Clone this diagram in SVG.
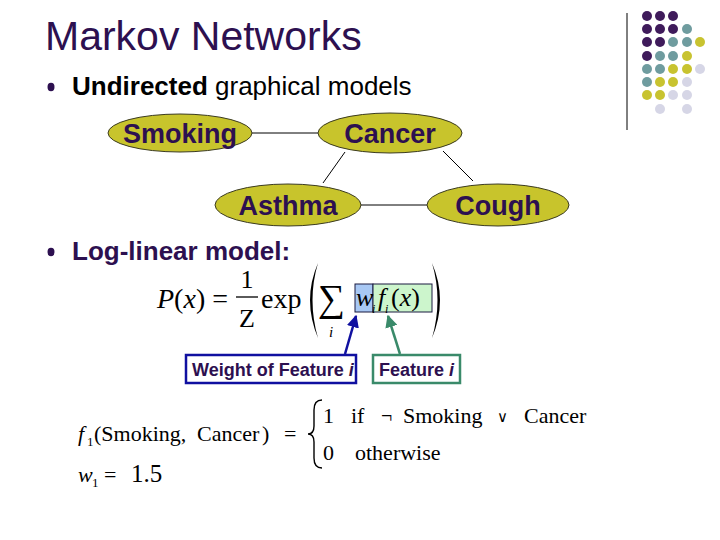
<svg xmlns="http://www.w3.org/2000/svg" width="720" height="540" viewBox="0 0 720 540">
<style>
.sans{font-family:"Liberation Sans",Arial,sans-serif}
.title{font-size:41px;fill:#2d1050}
.node ellipse{fill:#c8c42c;stroke:#3a3a20;stroke-width:1}
.node text{font-family:"Liberation Sans",Arial,sans-serif;font-weight:bold;font-size:27px;fill:#2d1050;text-anchor:middle}
.edge{stroke:#000;stroke-width:1;fill:none}
.dk{fill:#3f1b5b}.tl{fill:#6f9c9f}.yl{fill:#c8c330}.lv{fill:#d6d6e6}
.m{font-family:"Liberation Serif","Times New Roman",serif;fill:#000}
.lbl{font-family:"Liberation Sans",Arial,sans-serif;font-weight:bold;font-size:18px;fill:#2d1050}
</style>
<defs>
<marker id="ahB" viewBox="0 0 10 10" refX="9" refY="5" markerWidth="5" markerHeight="5" orient="auto"><path d="M0,0L10,5L0,10z" fill="#1010a0"/></marker>
<marker id="ahG" viewBox="0 0 10 10" refX="9" refY="5" markerWidth="5" markerHeight="5" orient="auto"><path d="M0,0L10,5L0,10z" fill="#3a8a6a"/></marker>
</defs>
<rect width="720" height="540" fill="#fff"/>
<g id="decor">
<line x1="627" y1="13" x2="627" y2="130" stroke="#000" stroke-width="1"/>
<circle class="dk" cx="647" cy="16" r="5"/><circle class="dk" cx="660" cy="16" r="5"/><circle class="dk" cx="673" cy="16" r="5"/>
<circle class="dk" cx="647" cy="29" r="5"/><circle class="dk" cx="660" cy="29" r="5"/><circle class="dk" cx="673" cy="29" r="5"/><circle class="tl" cx="687" cy="29" r="5"/>
<circle class="dk" cx="647" cy="42" r="5"/><circle class="dk" cx="660" cy="42" r="5"/><circle class="tl" cx="673" cy="42" r="5"/><circle class="tl" cx="687" cy="42" r="5"/><circle class="yl" cx="700" cy="42" r="5"/>
<circle class="dk" cx="647" cy="56" r="5"/><circle class="tl" cx="660" cy="56" r="5"/><circle class="tl" cx="673" cy="56" r="5"/><circle class="yl" cx="687" cy="56" r="5"/>
<circle class="tl" cx="647" cy="69" r="5"/><circle class="tl" cx="660" cy="69" r="5"/><circle class="yl" cx="673" cy="69" r="5"/><circle class="yl" cx="687" cy="69" r="5"/><circle class="lv" cx="700" cy="69" r="5"/>
<circle class="tl" cx="647" cy="82" r="5"/><circle class="yl" cx="660" cy="82" r="5"/><circle class="yl" cx="673" cy="82" r="5"/><circle class="lv" cx="687" cy="82" r="5"/>
<circle class="yl" cx="647" cy="95" r="5"/><circle class="yl" cx="660" cy="95" r="5"/><circle class="lv" cx="673" cy="95" r="5"/><circle class="lv" cx="687" cy="95" r="5"/>
<circle class="lv" cx="660" cy="109" r="5"/><circle class="lv" cx="687" cy="109" r="5"/>
</g>
<text class="sans title" x="45" y="50">Markov Networks</text>
<ellipse cx="51" cy="87" rx="3.5" ry="4.2" fill="#2d1050"/>
<text class="sans" x="72" y="95" font-size="26" fill="#000"><tspan font-weight="bold">Undirected</tspan> graphical models</text>
<ellipse cx="51" cy="252" rx="3.5" ry="4.2" fill="#2d1050"/>
<text class="sans" x="72" y="260" font-size="26" font-weight="bold" fill="#2d1050">Log-linear model:</text>
<g id="edges">
<line class="edge" x1="252" y1="133" x2="318" y2="133"/>
<line class="edge" x1="345" y1="152" x2="323" y2="183"/>
<line class="edge" x1="443" y1="151" x2="473" y2="181"/>
<line class="edge" x1="361" y1="205" x2="427" y2="205"/>
</g>
<g id="smoking" class="node"><ellipse cx="180" cy="133" rx="72" ry="19"/><text x="180" y="143">Smoking</text></g>
<g id="cancer" class="node"><ellipse cx="390" cy="133" rx="72" ry="20"/><text x="390" y="143">Cancer</text></g>
<g id="asthma" class="node"><ellipse cx="288" cy="205" rx="73" ry="21"/><text x="288" y="215">Asthma</text></g>
<g id="cough" class="node"><ellipse cx="498" cy="205" rx="71" ry="21"/><text x="498" y="215">Cough</text></g>
<g id="formula">
<text class="m" x="157" y="308" font-size="28"><tspan font-style="italic">P</tspan>(<tspan font-style="italic">x</tspan>) =</text>
<text class="m" x="247" y="288" font-size="26" text-anchor="middle">1</text>
<line x1="236" y1="297" x2="258" y2="297" stroke="#000" stroke-width="1.3"/>
<text class="m" x="247" y="327" font-size="26" text-anchor="middle">Z</text>
<text class="m" x="261" y="308" font-size="28">exp</text>
<path d="M318,263 Q302,300 318,338 Q307,300 318,263Z" fill="#000"/>
<path d="M432,263 Q448,300 432,338 Q443,300 432,263Z" fill="#000"/>
<text class="m" x="318" y="311" font-size="38">∑</text>
<text class="m" x="329" y="337" font-size="15" font-style="italic">i</text>
<rect x="355" y="284" width="18" height="28" fill="#a8c8f4" stroke="#1a1a40" stroke-width="1"/>
<rect x="373" y="284" width="59" height="28" fill="#ccf5cc" stroke="#1a1a40" stroke-width="1"/>
<text class="m" x="356" y="306" font-size="26" font-style="italic">w</text>
<text class="m" x="372" y="313" font-size="12" font-style="italic">i</text>
<text class="m" x="378" y="306" font-size="26" font-style="italic">f</text>
<text class="m" x="385" y="313" font-size="12" font-style="italic">i</text>
<text class="m" x="391" y="306" font-size="26">(<tspan font-style="italic">x</tspan>)</text>
</g>
<g id="callouts">
<line x1="345" y1="354" x2="356" y2="316" stroke="#1010a0" stroke-width="2.5" marker-end="url(#ahB)"/>
<line x1="400" y1="354" x2="388" y2="316" stroke="#3a8a6a" stroke-width="2.5" marker-end="url(#ahG)"/>
</g>
<g id="weight-box"><rect x="186" y="355" width="170" height="28" fill="#fff" stroke="#1010a0" stroke-width="2.5"/><text class="lbl" x="192" y="376">Weight of Feature <tspan font-style="italic">i</tspan></text></g>
<g id="feature-box"><rect x="373" y="355" width="87" height="28" fill="#fff" stroke="#3a8a6a" stroke-width="2.5"/><text class="lbl" x="379" y="376">Feature <tspan font-style="italic">i</tspan></text></g>
<g id="definition">
<text class="m" x="78" y="441" font-size="22" font-style="italic">f</text>
<text class="m" x="87" y="446" font-size="13">1</text>
<text class="m" x="94" y="441" font-size="22">(Smoking,</text>
<text class="m" x="197" y="441" font-size="22">Cancer</text>
<text class="m" x="262" y="441" font-size="22">)</text>
<text class="m" x="284" y="441" font-size="22">=</text>
<path d="M322,400 Q314,400 314,410 L314,426 Q314,434 308,434 Q314,434 314,442 L314,458 Q314,468 322,468" fill="none" stroke="#000" stroke-width="1.4"/>
<text class="m" x="323" y="423" font-size="22">1</text>
<text class="m" x="351" y="423" font-size="22">if</text>
<text class="m" x="381" y="423" font-size="20">¬</text>
<text class="m" x="403" y="423" font-size="22">Smoking</text>
<text class="m" x="497" y="422" font-size="15">∨</text>
<text class="m" x="524" y="423" font-size="22">Cancer</text>
<text class="m" x="323" y="460" font-size="22">0</text>
<text class="m" x="355" y="460" font-size="22">otherwise</text>
<text class="m" x="78" y="482" font-size="22" font-style="italic">w</text>
<text class="m" x="92" y="487" font-size="13">1</text>
<text class="m" x="104" y="482" font-size="22">=</text>
<text class="m" x="131" y="482" font-size="25">1.5</text>
</g>
</svg>
